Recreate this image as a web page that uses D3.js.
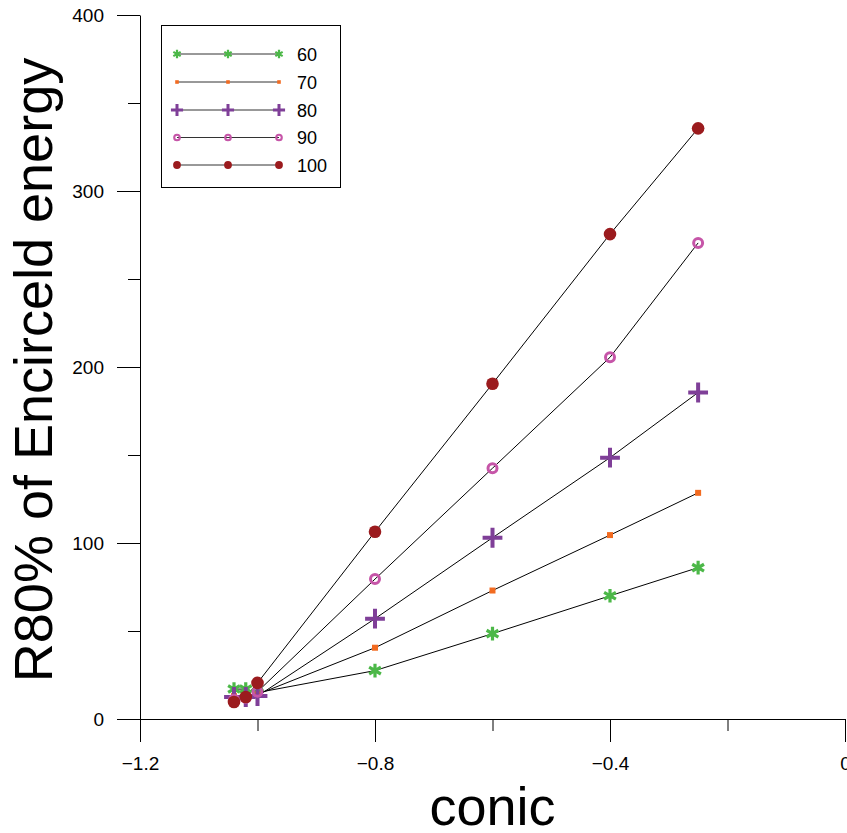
<!DOCTYPE html>
<html>
<head>
<meta charset="utf-8">
<script src="https://cdn.jsdelivr.net/npm/d3@7"></script>
<style>
  html, body { margin: 0; padding: 0; background: #fff; }
  svg { display: block; font-family: "Liberation Sans", Arial, sans-serif; }
</style>
</head>
<body>
<svg id="chart" width="847" height="833"></svg>
<script>
// ---- data ----
const conic = [-1.04, -1.02, -1.0, -0.8, -0.6, -0.4, -0.25];
const seriesNames = ["60", "70", "80", "90", "100"];
const s60  = [17, 17, 15, 27.5, 48.5, 70, 86];
const s70  = [13, 13, 14, 40.5, 73, 104.5, 128.5];
const s80  = [12.5, 12.5, 13, 57, 103, 148.5, 185.5];
const s90  = [11, 12, 15.5, 79.5, 142.5, 205.5, 270.5];
const s100 = [9.7, 12.5, 20.5, 106.4, 190.5, 275.5, 335.6];
const xMajorTicks = [-1.2, -0.8, -0.4, 0];
const xMinorTicks = [-1.0, -0.6, -0.2];
const yMajorTicks = [0, 100, 200, 300, 400];
const yMinorTicks = [50, 150, 250, 350];

const seriesValues = [s60, s70, s80, s90, s100];
const colors = ["#4cb848", "#f26b21", "#7f3f98", "#c655a8", "#9b1b1e"];

const svg = d3.select("#chart");
const x = d3.scaleLinear().domain([-1.2, 0]).range([140, 845]);
const y = d3.scaleLinear().domain([0, 400]).range([719, 15]);

// ---- axes ----
const fmtX = d => d === 0 ? "0" : d3.format(".1f")(d);
const gx = svg.append("g").attr("transform", "translate(0,719)");
gx.call(d3.axisBottom(x).tickValues(xMajorTicks).tickSize(23).tickSizeOuter(0).tickPadding(15).tickFormat(fmtX));
const gxm = svg.append("g").attr("transform", "translate(0,719)");
gxm.call(d3.axisBottom(x).tickValues(xMinorTicks).tickSize(12).tickSizeOuter(0).tickFormat(""));
gxm.select(".domain").remove();

const gy = svg.append("g").attr("transform", "translate(140,0)");
gy.call(d3.axisLeft(y).tickValues(yMajorTicks).tickSize(23).tickSizeOuter(0).tickPadding(13).tickFormat(d3.format("d")));
const gym = svg.append("g").attr("transform", "translate(140,0)");
gym.call(d3.axisLeft(y).tickValues(yMinorTicks).tickSize(12).tickSizeOuter(0).tickFormat(""));
gym.select(".domain").remove();

svg.selectAll(".tick text").attr("font-size", 19).attr("fill", "#000")
   .attr("font-family", "'Liberation Sans', Arial, sans-serif");
svg.selectAll(".domain, .tick line").attr("stroke", "#000").attr("stroke-width", 1);

// ---- axis titles ----
svg.append("text").attr("x", (140 + 845) / 2).attr("y", 825)
  .attr("text-anchor", "middle").attr("font-size", 54).attr("fill", "#000").text("conic");
svg.append("text").attr("transform", "translate(52,370) rotate(-90)")
  .attr("text-anchor", "middle").attr("font-size", 54).attr("fill", "#000").text("R80% of Encirceld energy");

// ---- marker drawing ----
function drawMarker(g, i, cx, cy, scale) {
  const c = colors[i];
  if (i === 0) {
    g.append("path").attr("transform", `translate(${cx},${cy})`)
      .attr("d", d3.symbol(d3.symbolAsterisk, 130 * scale * scale)())
      .attr("fill", "none").attr("stroke", c).attr("stroke-width", 3.2 * Math.max(scale, 0.7));
  } else if (i === 1) {
    g.append("path").attr("transform", `translate(${cx},${cy})`)
      .attr("d", d3.symbol(d3.symbolSquare, 36 * scale * scale)())
      .attr("fill", c);
  } else if (i === 2) {
    g.append("path").attr("transform", `translate(${cx},${cy})`)
      .attr("d", d3.symbol(d3.symbolPlus, 130 * scale * scale)())
      .attr("fill", "none").attr("stroke", c).attr("stroke-width", 4 * Math.max(scale, 0.75));
  } else if (i === 3) {
    g.append("circle").attr("cx", cx).attr("cy", cy).attr("r", 4.5 * scale)
      .attr("fill", "none").attr("stroke", c).attr("stroke-width", 3 * Math.max(scale, 0.7));
  } else {
    g.append("circle").attr("cx", cx).attr("cy", cy).attr("r", 6.3 * scale)
      .attr("fill", c);
  }
}

// ---- lines ----
const line = d3.line().x(d => x(d[0])).y(d => y(d[1]));
seriesValues.forEach((vals, i) => {
  const pts = conic.map((c, k) => [c, vals[k]]);
  svg.append("path").attr("d", line(pts)).attr("fill", "none")
    .attr("stroke", "#000").attr("stroke-width", 1);
});

// ---- markers ----
seriesValues.forEach((vals, i) => {
  const g = svg.append("g");
  conic.forEach((c, k) => drawMarker(g, i, x(c), y(vals[k]), 1));
});

// ---- legend ----
const lg = svg.append("g");
lg.append("rect").attr("x", 161.5).attr("y", 25.5).attr("width", 179).attr("height", 162)
  .attr("fill", "#fff").attr("stroke", "#000").attr("stroke-width", 1);
const rowY = [54, 82, 110, 137.5, 165];
seriesNames.forEach((name, i) => {
  const yy = rowY[i];
  lg.append("line").attr("x1", 177).attr("x2", 279).attr("y1", yy).attr("y2", yy)
    .attr("stroke", "#333").attr("stroke-width", 1);
  [177, 228, 279].forEach(xx => drawMarker(lg, i, xx, yy, i === 1 ? 0.6 : 0.62));
  lg.append("text").attr("x", 297).attr("y", yy + 6.5).attr("font-size", 18)
    .attr("fill", "#000").text(name);
});
</script>
</body>
</html>
